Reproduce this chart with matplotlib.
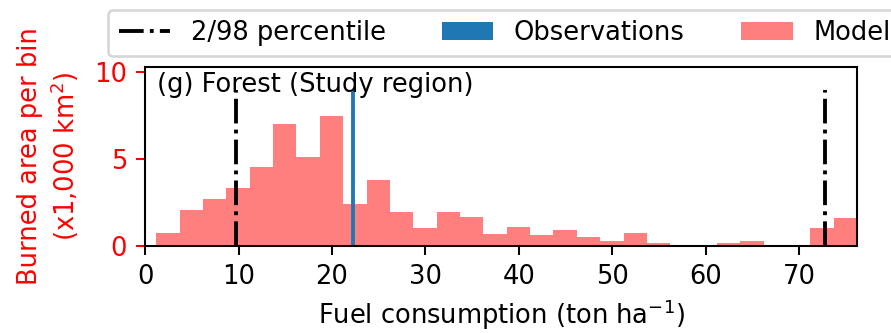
import numpy as np
from matplotlib import pyplot as plt
from matplotlib.patches import Patch
from matplotlib.lines import Line2D

# model histogram: 30 bins of 2.5 ton/ha starting at 1.2
bin_edges = 1.2 + 2.5 * np.arange(31)
model_area = [0.75, 2.05, 2.7, 3.35, 4.55, 7.0, 5.15, 7.5, 2.4, 3.8,
              1.95, 1.05, 1.95, 1.7, 0.7, 1.1, 0.65, 0.95, 0.5, 0.3,
              0.75, 0.15, 0.08, 0.03, 0.15, 0.3, 0.08, 0.08, 1.05, 1.6]

obs_mean = 22.3
percentiles = [9.75, 72.7]
line_top = 9.0

dpi = 185
fig, ax = plt.subplots(figsize=(892 / dpi, 333 / dpi), dpi=dpi)
fig.subplots_adjust(left=0.1626, right=0.961, bottom=0.261, top=0.799)

centres = 0.5 * (bin_edges[:-1] + bin_edges[1:])
ax.hist(centres, bins=bin_edges, weights=model_area, color='red', alpha=0.5)
ax.vlines(percentiles, 0, line_top, colors='k', linestyles='-.', linewidth=1.5)
ax.vlines(obs_mean, 0, line_top, colors='tab:blue', linewidth=1.5)

ax.set_xlim(0, bin_edges[-1])
ax.set_ylim(0, 10.3)
ax.set_yticks([0, 5, 10])
ax.set_xlabel('Fuel consumption (ton ha$^{-1}$)', labelpad=3)
ax.set_ylabel('Burned area per bin\n(x1,000 km$^2$)', color='red', labelpad=5)
ax.tick_params(axis='y', colors='red', labelcolor='red')
ax.text(0.017, 0.97, '(g) Forest (Study region)', transform=ax.transAxes,
        va='top', ha='left')

handles = [Line2D([], [], color='k', linestyle='-.', linewidth=1.5),
           Patch(facecolor='tab:blue', edgecolor='none'),
           Patch(facecolor='red', alpha=0.5, edgecolor='none')]
labels = ['2/98 percentile', 'Observations', 'Model']
fig.legend(handles, labels, loc='upper left', bbox_to_anchor=(0.107, 1.009),
           ncol=3, columnspacing=2.2)

fig.savefig('out.png')
